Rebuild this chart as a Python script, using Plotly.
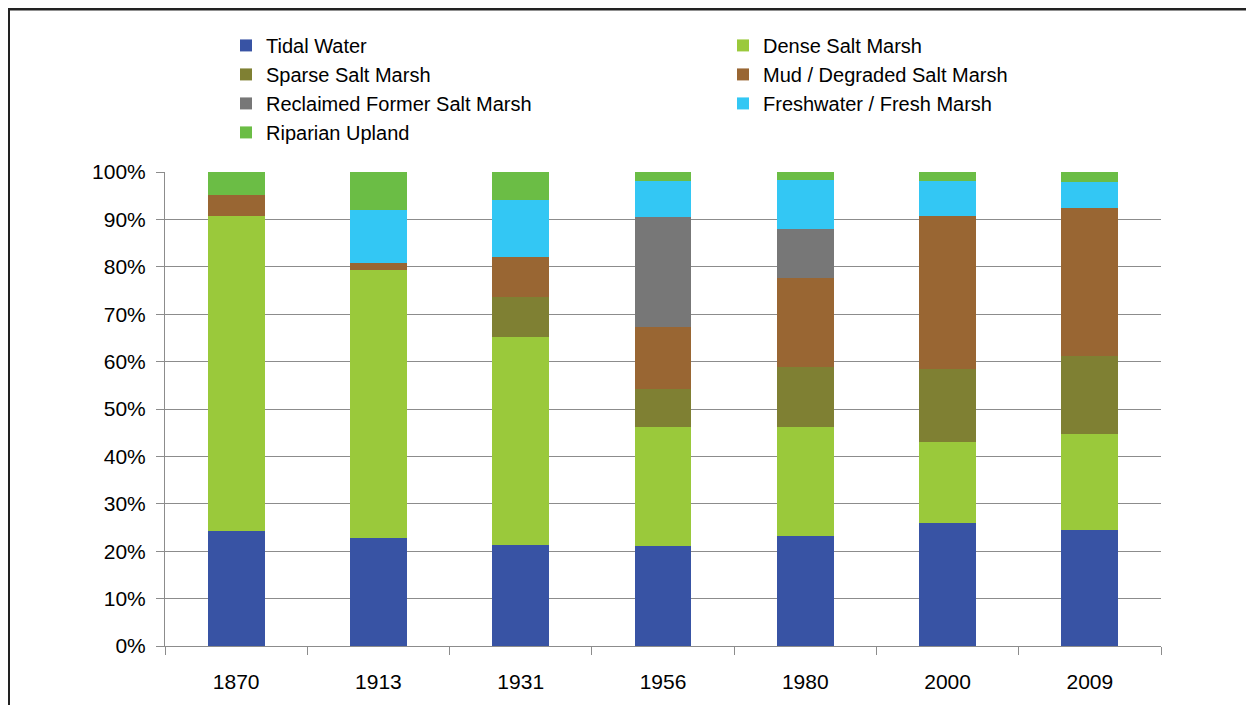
import plotly.graph_objects as go

years = ["1870", "1913", "1931", "1956", "1980", "2000", "2009"]
tidal_water = [24.2, 22.8, 21.4, 21.2, 23.3, 26.0, 24.4]
dense_salt_marsh = [66.5, 56.6, 43.7, 25.0, 22.9, 17.1, 20.4]
sparse_salt_marsh = [0.0, 0.0, 8.6, 8.1, 12.7, 15.4, 16.3]
mud_degraded = [4.5, 1.3, 8.4, 13.1, 18.8, 32.2, 31.4]
reclaimed_former = [0.0, 0.0, 0.0, 23.1, 10.3, 0.0, 0.0]
freshwater_marsh = [0.0, 11.2, 12.0, 7.5, 10.3, 7.3, 5.3]
riparian_upland = [4.8, 8.1, 5.9, 2.0, 1.7, 2.0, 2.2]

series = [
    ("Tidal Water", tidal_water, "#3853A4"),
    ("Dense Salt Marsh", dense_salt_marsh, "#9AC93B"),
    ("Sparse Salt Marsh", sparse_salt_marsh, "#7F8033"),
    ("Mud / Degraded Salt Marsh", mud_degraded, "#996633"),
    ("Reclaimed Former Salt Marsh", reclaimed_former, "#777777"),
    ("Freshwater / Fresh Marsh", freshwater_marsh, "#33C7F4"),
    ("Riparian Upland", riparian_upland, "#6BBD45"),
]

fig = go.Figure()
for name, vals, color in series:
    fig.add_trace(go.Bar(x=years, y=vals, name=name,
                         marker=dict(color=color, line=dict(width=0))))

# page body has an 8px margin; figure coordinates = screen coordinates - 8
W, H = 1238, 697
L, R, T, B = 157, 85, 164, 56
pw, ph = W - L - R, H - T - B

def px_x(x):
    return (x - L) / pw

def px_y(y):
    return (H - B - y) / ph

FONT = "Liberation Sans, Arial, sans-serif"

fig.update_layout(
    width=W, height=H,
    barmode="stack", bargap=0.6,
    paper_bgcolor="white", plot_bgcolor="white",
    margin=dict(l=L, r=R, t=T, b=B),
    font=dict(family=FONT, size=21, color="black"),
    legend=dict(
        orientation="h", traceorder="normal",
        x=px_x(218), xanchor="left", y=px_y(17), yanchor="top",
        entrywidth=452, entrywidthmode="pixels",
        font=dict(family=FONT, size=20, color="black"),
        bgcolor="rgba(0,0,0,0)", tracegroupgap=0,
    ),
    xaxis=dict(
        type="category", tickson="boundaries", ticks="outside", ticklen=8,
        tickcolor="#8c8c8c", showline=True, linecolor="#8c8c8c", linewidth=1,
        showgrid=False, tickfont=dict(size=21), ticklabelstandoff=17,
    ),
    yaxis=dict(
        range=[0, 100], dtick=10, ticksuffix="%", ticks="outside", ticklen=8,
        tickcolor="#8c8c8c", showline=True, linecolor="#8c8c8c", linewidth=1,
        showgrid=True, gridcolor="#8c8c8c", gridwidth=1, zeroline=False,
        tickfont=dict(size=21), ticklabelstandoff=6,
    ),
    shapes=[
        dict(type="line", xref="paper", yref="paper",
             x0=px_x(0), x1=px_x(W + 5), y0=px_y(0), y1=px_y(0),
             line=dict(color="#222222", width=3)),
        dict(type="line", xref="paper", yref="paper",
             x0=px_x(0.5), x1=px_x(0.5), y0=px_y(-1), y1=px_y(H + 5),
             line=dict(color="#222222", width=3)),
    ],
)

fig.write_html("out.html")
